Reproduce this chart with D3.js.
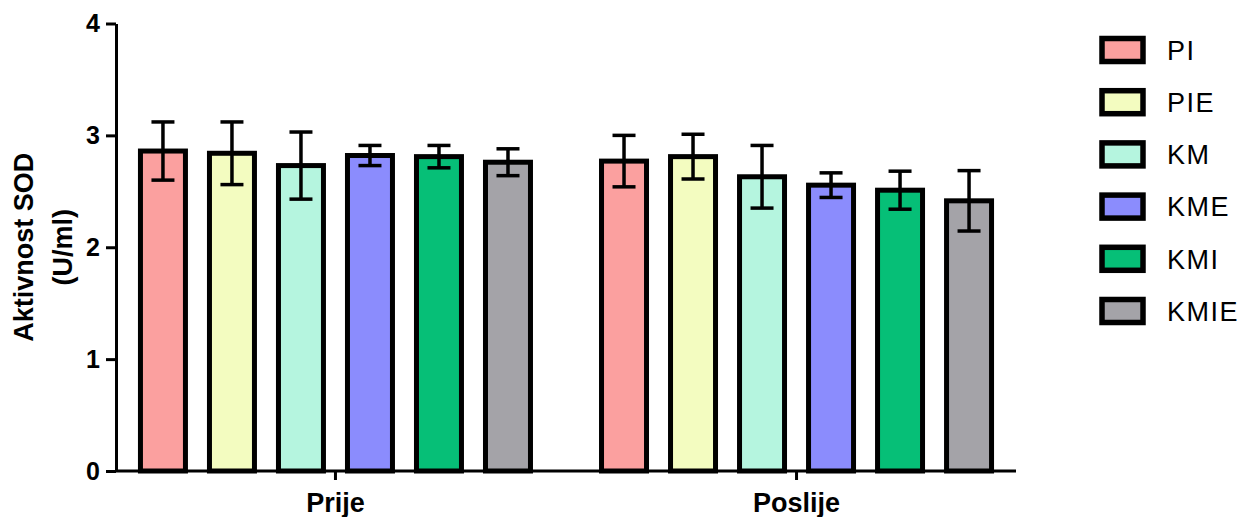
<!DOCTYPE html>
<html>
<head>
<meta charset="utf-8">
<script src="https://cdn.jsdelivr.net/npm/d3@7"></script>
<style>
  body { margin: 0; background: #fff; }
  svg { display: block; font-family: "Liberation Sans", Arial, sans-serif; }
  .axis path, .axis line { stroke: #000; stroke-width: 3; }
  .axis text { font-weight: bold; fill: #000; }
</style>
</head>
<body>
<div id="chart"></div>
<script>
// groups on the x axis and the six series
const groups = ["Prije", "Poslije"];
const series = ["PI", "PIE", "KM", "KME", "KMI", "KMIE"];
const colors = ["#fba09f", "#f3fcc0", "#b5f5df", "#8b8cfd", "#06bf77", "#a4a3a8"];

// means and error (SD) per group, in series order
const prijeMean = [2.86, 2.84, 2.73, 2.82, 2.81, 2.76];
const prijeErr  = [0.26, 0.28, 0.30, 0.09, 0.10, 0.12];
const poslijeMean = [2.77, 2.81, 2.63, 2.555, 2.51, 2.415];
const poslijeErr  = [0.23, 0.20, 0.28, 0.11, 0.17, 0.27];

const yTicks = [0, 1, 2, 3, 4];

const width = 1244, height = 517;
const margin = {top: 23.5, left: 116, right: 228, bottom: 46};

let svg = d3.select("#chart").append("svg")
  .attr("width", width).attr("height", height);

let y = d3.scaleLinear().domain([0, 4]).range([height - margin.bottom, margin.top]);
let x0 = d3.scaleBand().domain(groups)
  .range([margin.left, width - margin.right])
  .paddingInner(0.102).paddingOuter(0.027);
let x1 = d3.scaleBand().domain(series)
  .range([0, x0.bandwidth()])
  .paddingInner(0.348).paddingOuter(0.174);
let color = d3.scaleOrdinal().domain(series).range(colors);

let rows = [];
groups.forEach(function(g, gi){
  let means = gi == 0 ? prijeMean : poslijeMean;
  let errs = gi == 0 ? prijeErr : poslijeErr;
  series.forEach(function(s, si){
    rows.push({group: g, series: s, value: means[si], err: errs[si]});
  });
});

// bars
svg.append("g").attr("id", "bars")
  .selectAll("rect")
  .data(rows)
  .enter()
  .append("rect")
  .attr("x", d => x0(d.group) + x1(d.series))
  .attr("y", d => y(d.value))
  .attr("width", x1.bandwidth())
  .attr("height", d => y(0) - y(d.value))
  .attr("fill", d => color(d.series))
  .attr("stroke", "#000")
  .attr("stroke-width", 5);

// error bars
let capHalf = 11.5;
let eb = svg.append("g").attr("id", "errors")
  .selectAll("g")
  .data(rows)
  .enter()
  .append("g")
  .attr("transform", d => "translate(" + (x0(d.group) + x1(d.series) + x1.bandwidth() / 2) + ",0)")
  .attr("stroke", "#000")
  .attr("stroke-width", 3.5);
eb.append("line")
  .attr("x1", 0).attr("x2", 0)
  .attr("y1", d => y(d.value + d.err))
  .attr("y2", d => y(d.value - d.err));
eb.append("line")
  .attr("x1", -capHalf).attr("x2", capHalf)
  .attr("y1", d => y(d.value + d.err))
  .attr("y2", d => y(d.value + d.err));
eb.append("line")
  .attr("x1", -capHalf).attr("x2", capHalf)
  .attr("y1", d => y(d.value - d.err))
  .attr("y2", d => y(d.value - d.err));

// axes
svg.append("g").attr("class", "axis")
  .attr("transform", "translate(" + margin.left + ",0)")
  .call(d3.axisLeft(y).tickValues(yTicks).tickFormat(d3.format("d")).tickSize(10).tickSizeOuter(0).tickPadding(6))
  .selectAll("text").style("font-size", "25px");

let xAxis = svg.append("g").attr("class", "axis")
  .attr("transform", "translate(0," + y(0) + ")")
  .call(d3.axisBottom(x0).tickSize(9).tickSizeOuter(0).tickPadding(13));
xAxis.select(".domain").attr("d", "M" + margin.left + ",0H" + (width - margin.right));
xAxis.selectAll("text").style("font-size", "27px").attr("dy", "0.71em");

// y label
let yl = svg.append("text")
  .attr("transform", "translate(33," + (y(2)) + ") rotate(-90)")
  .attr("text-anchor", "middle")
  .style("font-size", "27px").style("font-weight", "bold");
yl.append("tspan").attr("x", 0).attr("y", 0).text("Aktivnost SOD");
yl.append("tspan").attr("x", 0).attr("y", 39).text("(U/ml)");

// legend
let legend = svg.append("g").attr("id", "legend")
  .selectAll("g")
  .data(series)
  .enter()
  .append("g")
  .attr("transform", (d, i) => "translate(1102," + (50 + i * 52.2) + ")");
legend.append("rect")
  .attr("x", 0).attr("y", -11.5)
  .attr("width", 41).attr("height", 23)
  .attr("fill", d => color(d))
  .attr("stroke", "#000").attr("stroke-width", 5.5);
legend.append("text")
  .attr("x", 65).attr("y", 0).attr("dy", "0.36em")
  .style("font-size", "27px").style("letter-spacing", "1.5px")
  .text(d => d);
</script>
</body>
</html>
